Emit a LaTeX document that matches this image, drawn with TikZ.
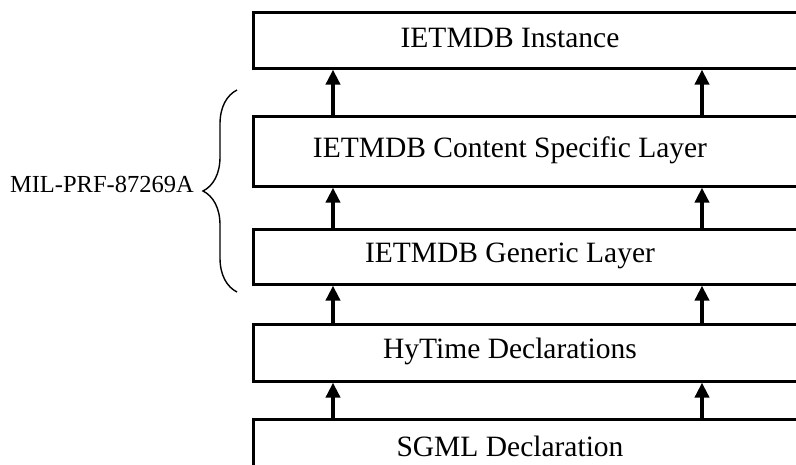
\documentclass[tikz,border=0pt]{standalone}
\usepackage{fontspec}
\setmainfont{Liberation Serif}
\usetikzlibrary{arrows.meta,decorations.pathreplacing}
\begin{document}
\begin{tikzpicture}[x=1pt,y=-1pt,
  layerbox/.style={draw, line width=2.6pt, minimum width=600pt, anchor=north west, inner sep=0pt},
  lbl/.style={font=\fontsize{29.5}{34}\selectfont, inner sep=0pt},
  arr/.style={line width=3.8pt, -{Triangle[length=15pt,width=14pt]}},
  brc/.style={decorate, decoration={brace, mirror, amplitude=34pt}, line width=1.4pt}]
\useasboundingbox (0,0) rectangle (796,464);
\clip (0,0) rectangle (796,464);
\node[layerbox, minimum height=56pt] (b1) at (252,11) {};
\node[layerbox, minimum height=70pt] (b2) at (252,115) {};
\node[layerbox, minimum height=55pt] (b3) at (252,228) {};
\node[layerbox, minimum height=57pt] (b4) at (252,323) {};
\node[layerbox, minimum height=70pt] (b5) at (252,418) {};
\node[lbl] (t1) at (510,38) {IETMDB Instance};
\node[lbl] (t2) at (510,150) {IETMDB Content Specific Layer};
\node[lbl] (t3) at (510,255.5) {IETMDB Generic Layer};
\node[lbl] (t4) at (510,351.5) {HyTime Declarations};
\node[lbl] (t5) at (510,446) {SGML Declaration};
\coordinate (la) at (333,0);
\coordinate (ra) at (702,0);
\foreach \lo/\hi in {b2/b1,b3/b2,b4/b3,b5/b4}{
  \draw[arr] (\lo.north -| la) -- (\hi.south -| la);
  \draw[arr] (\lo.north -| ra) -- (\hi.south -| ra);
}
\coordinate (bt) at (237,90);
\coordinate (bb) at (237,292);
\draw[brc] (bt) -- (bb);
\node[font=\fontsize{24.5}{28}\selectfont, anchor=base east, inner sep=0pt] (ml) at (194,192) {MIL-PRF-87269A};
\end{tikzpicture}
\end{document}
